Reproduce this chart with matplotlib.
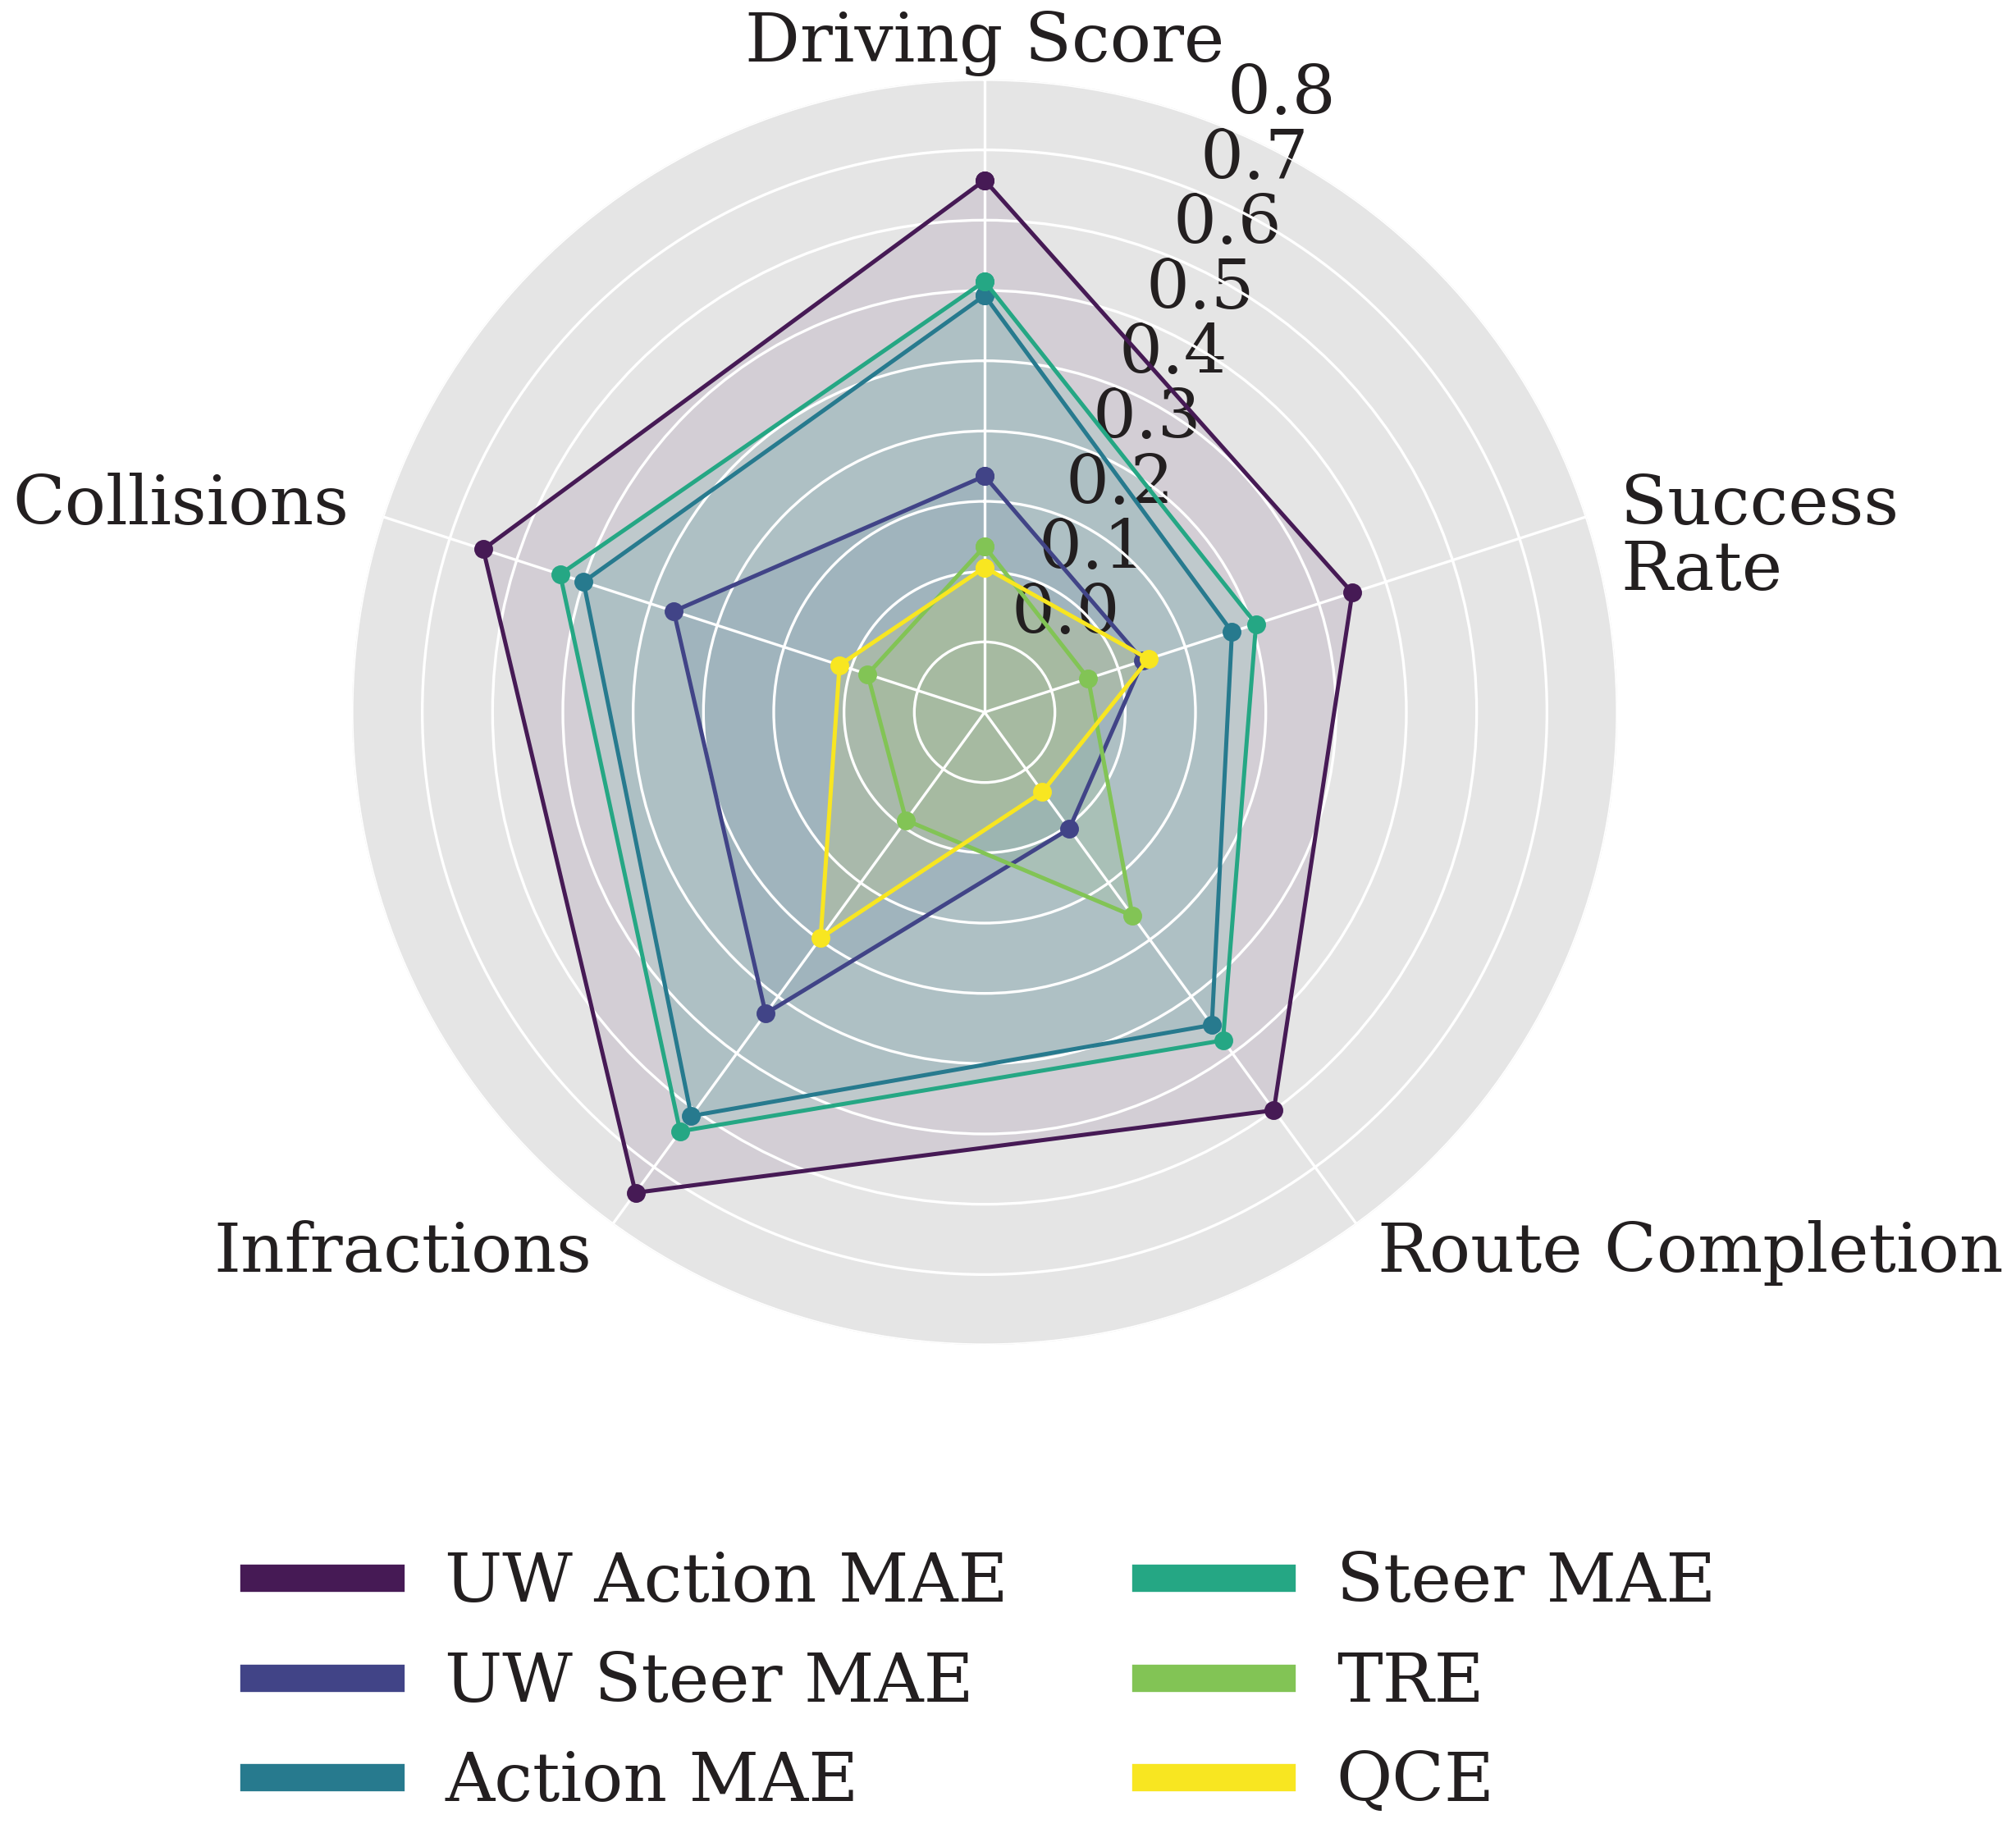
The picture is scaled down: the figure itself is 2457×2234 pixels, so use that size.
import matplotlib
matplotlib.use('Agg')
import matplotlib.pyplot as plt
import matplotlib.transforms as mtransforms
import numpy as np
from matplotlib.lines import Line2D

plt.rcParams['font.family'] = ['DejaVu Serif']
plt.rcParams['font.size'] = 20
plt.rcParams['text.color'] = '#231F20'
plt.rcParams['xtick.color'] = '#231F20'
plt.rcParams['ytick.color'] = '#231F20'

# metrics, clockwise from top
categories = ['Driving Score', 'Success\nRate', 'Route Completion', 'Infractions', 'Collisions']
methods = ['UW Action MAE', 'UW Steer MAE', 'Action MAE', 'Steer MAE', 'TRE', 'QCE']

uw_action_mae = [0.657, 0.450, 0.600, 0.745, 0.650]
uw_steer_mae = [0.236, 0.137, 0.105, 0.430, 0.365]
action_mae = [0.493, 0.270, 0.450, 0.610, 0.500]
steer_mae = [0.513, 0.306, 0.477, 0.637, 0.535]
tre = [0.136, 0.055, 0.258, 0.090, 0.075]
qce = [0.106, 0.145, 0.040, 0.297, 0.117]

series = [uw_action_mae, uw_steer_mae, action_mae, steer_mae, tre, qce]
# viridis-like, as they come out in the original
colors = ['#461A55', '#414487', '#277A8E', '#25A784', '#82C455', '#F8E621']

n = len(categories)
angles = np.linspace(0, 2 * np.pi, n, endpoint=False).tolist()
angles += angles[:1]

fig = plt.figure(figsize=(2457 / 300, 2234 / 300), dpi=300)
ax = fig.add_axes([0.1746, 0.2663, 0.6276, 0.6903], projection='polar')
ax.set_facecolor('#E5E5E5')
ax.set_theta_offset(np.pi / 2)
ax.set_theta_direction(-1)

for vals, name, c in zip(series, methods, colors):
    v = vals + vals[:1]
    ax.plot(angles, v, color=c, linewidth=1.2, marker='o', markersize=4.5, label=name)
    ax.fill(angles, v, color=c, alpha=0.11)

ax.set_ylim(-0.1, 0.8)
ax.set_yticks(np.arange(0, 0.81, 0.1))
ax.set_yticklabels([f'{t:.1f}' for t in np.arange(0, 0.81, 0.1)])
ax.set_xticks(angles[:-1])
ax.set_xticklabels(categories)
ax.grid(color='white', linewidth=0.8)
ax.spines['polar'].set_visible(False)
ax.tick_params(axis='both', length=0)

for lbl, ang in zip(ax.get_xticklabels(), angles[:-1]):
    if ang == 0:
        lbl.set_horizontalalignment('center')
    elif 0 < ang < np.pi:
        lbl.set_horizontalalignment('left')
    else:
        lbl.set_horizontalalignment('right')
    if '\n' in lbl.get_text():
        lbl.set_linespacing(1.0)
        lbl.set_transform(lbl.get_transform() +
                          mtransforms.ScaledTranslation(0, -9.5 / 72, fig.dpi_scale_trans))

handles = [Line2D([0], [0], color=c, linewidth=8) for c in colors]
fig.legend(handles, methods, loc='upper center', bbox_to_anchor=(0.4884, 0.188),
           ncol=2, frameon=False, fontsize=20)

fig.savefig('out.png', dpi=300, facecolor='white')
